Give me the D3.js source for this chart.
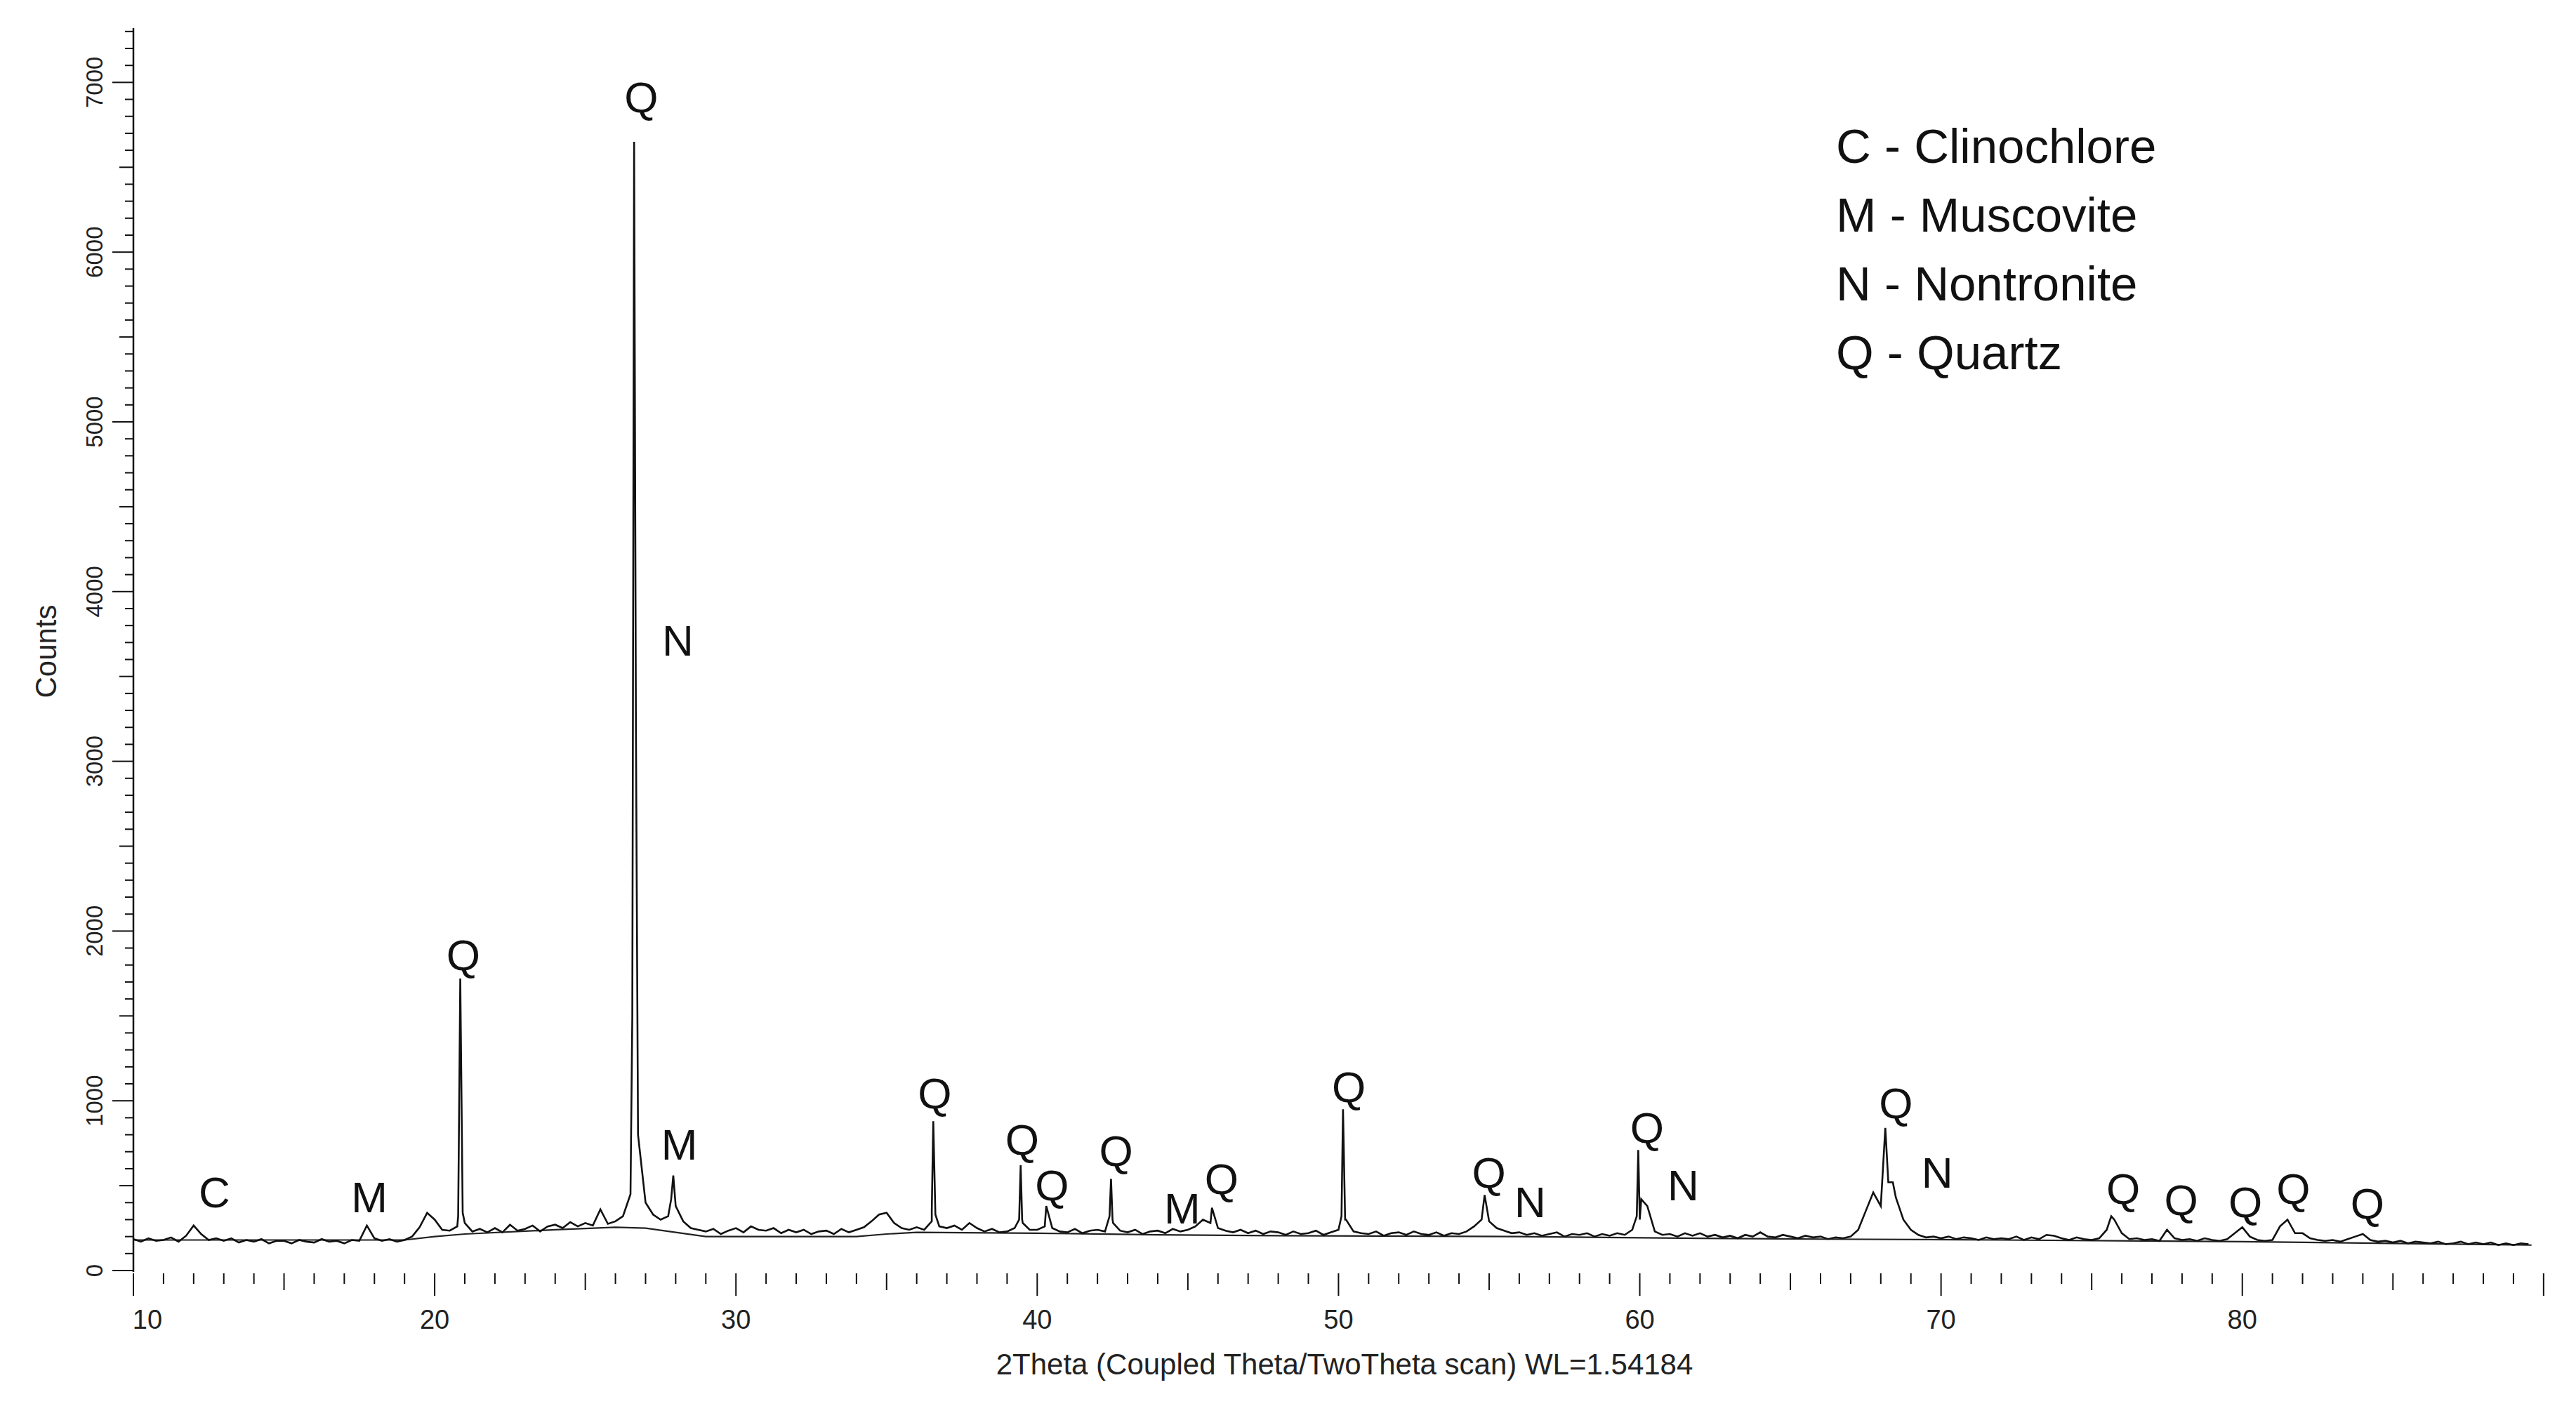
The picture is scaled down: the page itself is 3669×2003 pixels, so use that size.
<!DOCTYPE html>
<html><head><meta charset="utf-8">
<script src="https://cdn.jsdelivr.net/npm/d3@7"></script>
<style>body{margin:0;background:#fff}</style>
</head><body>
<script>
// observed pattern, 0.25 deg grid from 10
var gridStart = 10, gridStep = 0.25;
var gridCounts = [
 185,170,190,175, 180,195,170,205, 265,215,180,190, 175,190,165,180, 170,185,160,175,
 175,160,180,170, 165,185,170,175, 160,180,175,265, 190,175,185,170, 180,200,255,340,
 300,240,235,260, 280,230,245,225, 250,225,270,235, 245,265,230,260, 270,250,285,260,
 280,265,360,275, 290,320,450,800, 400,330,300,320, 380,290,250,240, 230,245,215,235,
 250,225,260,240, 235,250,220,240, 225,240,215,230, 235,215,245,225, 240,255,290,330,
 340,280,250,240, 255,240,290,260, 250,265,240,280, 250,230,245,225, 230,250,300,240,
 240,260,250,230, 225,245,220,235, 240,230,300,235, 225,240,215,230, 235,220,245,230,
 240,260,300,280, 250,235,225,240, 220,235,215,230, 225,210,230,215, 220,235,210,225,
 240,300,230,220, 215,230,205,220, 225,210,230,215, 210,225,205,220, 215,230,260,300,
 290,250,235,220, 225,210,220,205, 215,225,200,215, 210,220,200,215, 205,220,210,240,
 300,380,230,210, 215,200,220,205, 220,200,210,195, 205,190,210,200, 225,200,195,210,
 200,190,205,195, 200,185,195,190, 200,240,350,460, 380,520,430,300, 240,210,195,200,
 190,200,185,195, 190,180,195,185, 190,185,200,180, 195,185,210,205, 190,180,195,185,
 180,190,240,300, 220,185,190,180, 185,175,240,190, 180,185,175,190, 180,175,185,220,
 255,200,180,175, 180,260,300,220, 220,190,180,175, 180,170,185,200, 215,180,170,175,
 165,175,160,170, 165,160,170,155, 160,170,155,165, 155,165,150,160, 150,160,155
];
// sharp peaks [2theta, counts]
var peakPts = [
 [20.78,320],[20.85,1720],[20.93,340],
 [26.56,1500],[26.62,6650],[26.68,3200],
 [27.85,420],[27.92,560],
 [36.5,350],[36.55,880],[36.62,330],
 [39.4,300],[39.45,620],[39.52,280],
 [40.3,380],
 [42.4,320],[42.45,540],[42.52,280],
 [45.8,370],
 [50.1,320],[50.15,950],[50.22,300],
 [54.85,445],
 [59.9,320],[59.95,710],[60.05,420],
 [68.15,840],[68.4,520],
 [75.65,320]
];
// background line
var bgX = [10,19,20,21,24,26,27,28,29,34,35,36,40,44,48,56,62,66,72,80,89.6];
var bgY = [180,180,200,215,240,255,250,225,200,200,215,225,220,210,205,200,190,185,180,170,150];
// phase labels
var lblText = ["C","M","Q","Q","N","M","Q","Q","Q","Q","M","Q","Q","Q","N","Q","N","Q","N","Q","Q","Q","Q","Q"];
var lblX = [12.69,17.83,20.95,26.86,28.07,28.12,36.60,39.50,40.49,42.62,44.81,46.12,50.34,54.99,56.36,60.24,61.44,68.50,69.87,76.05,77.97,80.10,81.69,84.15];
var lblY = [466,437,1862,6916,3715,747,1048,776,504,708,369,543,1086,582,407,844,504,989,582,485,417,407,485,398];
var legendLines = ["C - Clinochlore","M - Muscovite","N - Nontronite","Q - Quartz"];
var xMajor = [10,20,30,40,50,60,70,80];
var yMajor = [0,1000,2000,3000,4000,5000,6000,7000];

var W = 3669, H = 2003;
var svg = d3.select('body').append('svg').attr('width', W).attr('height', H);
var x = d3.scaleLinear().domain([10, 90.4]).range([190, 3640]);
var y = d3.scaleLinear().domain([0, 7320]).range([1810, 40]);
var narrow = "'Liberation Sans Narrow','Arial Narrow','Liberation Sans',sans-serif";

var obs = gridCounts.map(function (c, i) { return [gridStart + i * gridStep, c]; })
  .concat(peakPts).sort(function (a, b) { return a[0] - b[0]; });

var line = d3.line().x(d => x(d[0])).y(d => y(d[1]));
svg.append('path').datum(bgX.map((v, i) => [v, bgY[i]]))
  .attr('d', line).attr('fill', 'none').attr('stroke', '#222').attr('stroke-width', 2.2);
svg.append('path').datum(obs)
  .attr('d', line).attr('fill', 'none').attr('stroke', '#111').attr('stroke-width', 2.6);

// y axis
svg.append('line').attr('x1', 190).attr('x2', 190).attr('y1', 40).attr('y2', 1812)
  .attr('stroke', '#111').attr('stroke-width', 2.5);
d3.range(0, 7301, 100).forEach(function (v) {
  var len = v % 1000 === 0 ? 30 : (v % 500 === 0 ? 20 : 12);
  svg.append('line').attr('x1', 190 - len).attr('x2', 190).attr('y1', y(v)).attr('y2', y(v))
    .attr('stroke', '#111').attr('stroke-width', 2);
});
yMajor.forEach(function (v) {
  svg.append('text').attr('transform', 'translate(146,' + y(v) + ') rotate(-90)')
    .attr('text-anchor', 'middle').attr('font-family', narrow).attr('font-size', 33)
    .attr('fill', '#222').text(v);
});

// x axis ticks
d3.range(10, 90.01, 1).forEach(function (v) {
  var len = v % 10 === 0 ? 32 : (v % 5 === 0 ? 24 : 15);
  svg.append('line').attr('x1', x(v)).attr('x2', x(v)).attr('y1', 1814).attr('y2', 1814 + len)
    .attr('stroke', '#111').attr('stroke-width', 2);
});
xMajor.forEach(function (v) {
  svg.append('text').attr('x', x(v) + (v === 10 ? 20 : 0)).attr('y', 1893).attr('text-anchor', 'middle')
    .attr('font-family', narrow).attr('font-size', 38).attr('fill', '#222').text(v);
});

svg.append('text').attr('x', 1915).attr('y', 1958).attr('text-anchor', 'middle')
  .attr('font-family', "'Liberation Sans',sans-serif").attr('font-size', 42).attr('fill', '#222')
  .text('2Theta (Coupled Theta/TwoTheta scan) WL=1.54184');
svg.append('text').attr('transform', 'translate(80,928) rotate(-90)').attr('text-anchor', 'middle')
  .attr('font-family', "'Liberation Sans',sans-serif").attr('font-size', 42).attr('fill', '#222')
  .text('Counts');

// phase labels
lblText.forEach(function (t, i) {
  svg.append('text').attr('x', x(lblX[i])).attr('y', y(lblY[i])).attr('dy', '0.36em')
    .attr('text-anchor', 'middle').attr('font-family', "'Liberation Sans',sans-serif")
    .attr('font-size', 62).attr('fill', '#111').text(t);
});

// legend
legendLines.forEach(function (t, i) {
  svg.append('text').attr('x', 2615).attr('y', 207 + i * 98).attr('dy', '0.36em')
    .attr('font-family', "'Liberation Sans',sans-serif").attr('font-size', 69)
    .attr('fill', '#111').text(t);
});
</script>
</body></html>
